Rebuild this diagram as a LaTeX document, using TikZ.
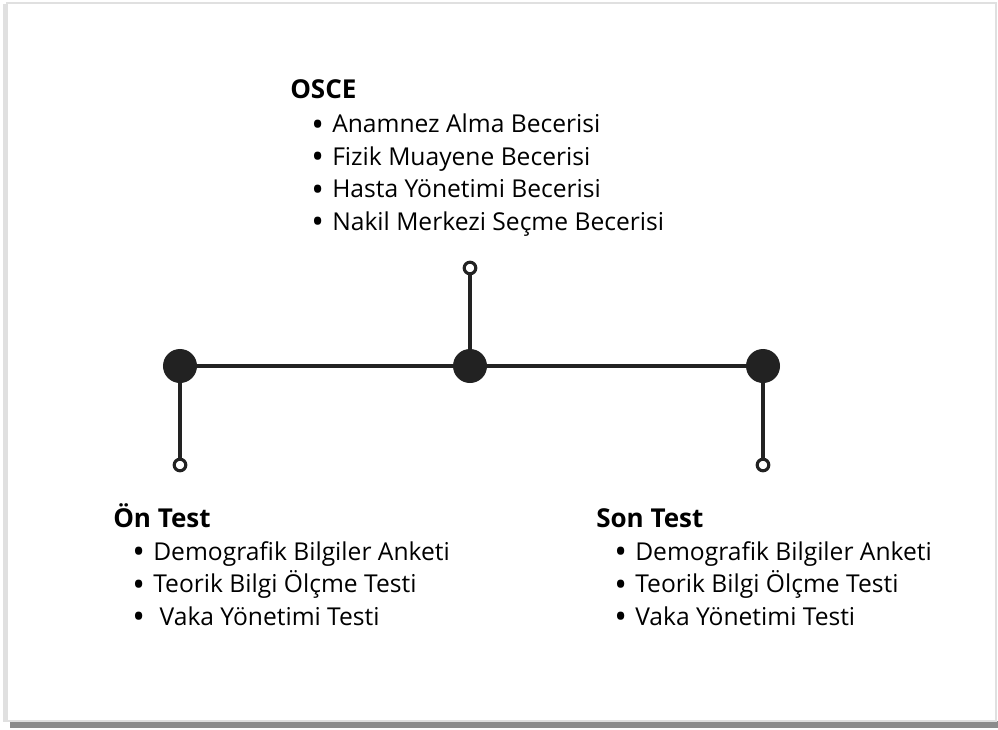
\documentclass[tikz,border=0pt]{standalone}
\usepackage{fontspec}
\setmainfont{Open Sans}
\usetikzlibrary{positioning}
\definecolor{ink}{HTML}{222222}
\newcommand{\itm}{\makebox[0.525cm][l]{\raisebox{-2.6pt}{\fontsize{24}{0}\selectfont\textbullet}}}

\begin{document}
\begin{tikzpicture}[
  x=0.025cm, y=-0.025cm,
  font=\fontsize{17.5}{23.1}\selectfont,
  dot/.style={circle, fill=ink, minimum size=0.85cm, inner sep=0pt},
  endpt/.style={circle, draw=ink, line width=2.2pt, fill=white, minimum size=0.29cm, inner sep=0pt},
  stem/.style={draw=ink, line width=2.3pt},
  head/.style={anchor=base west, inner sep=0pt, font=\fontsize{18.5}{23.1}\selectfont\bfseries},
  items/.style={anchor=base west, inner sep=0pt, align=left}
]
  \useasboundingbox (0,0) rectangle (998,729);
  % frame with shadow
  \fill[black!45] (10,721) rectangle (998,728);
  \fill[black!12] (3,4) rectangle (8,722);
  \filldraw[fill=white, draw=black!12, line width=1pt] (7,3) rectangle (996,721);

  % timeline
  \node[dot] (pre) at (180,366) {};
  \node[dot] (osce) at (470,366) {};
  \node[dot] (post) at (763,366) {};
  \node[endpt] (preend) at (180,465) {};
  \node[endpt] (osceend) at (470,268) {};
  \node[endpt] (postend) at (763,465) {};
  \draw[stem] (pre) -- (osce) -- (post);
  \draw[stem] (pre) -- (preend);
  \draw[stem] (osce) -- (osceend);
  \draw[stem] (post) -- (postend);

  % texts (base of a list = baseline of its last line)
  \node[head] (osceh) at (290,99) {OSCE};
  \node[items] (oscel) at (311,230) {\itm Anamnez Alma Becerisi\\ \itm Fizik Muayene Becerisi\\ \itm Hasta Yönetimi Becerisi\\ \itm Nakil Merkezi Seçme Becerisi};
  \node[head] (preh) at (113,527) {Ön Test};
  \node[items] (prel) at (132,625) {\itm Demografik Bilgiler Anketi\\ \itm Teorik Bilgi Ölçme Testi\\ \itm\ Vaka Yönetimi Testi};
  \node[head] (posth) at (596,527) {Son Test};
  \node[items] (postl) at (614,625) {\itm Demografik Bilgiler Anketi\\ \itm Teorik Bilgi Ölçme Testi\\ \itm Vaka Yönetimi Testi};
\end{tikzpicture}
\end{document}
